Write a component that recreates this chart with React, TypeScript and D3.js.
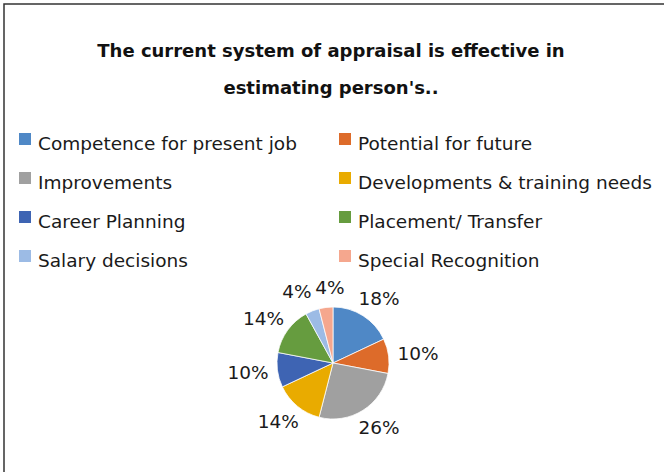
import React from "react";
import * as d3 from "d3";

const categories = [
  "Competence for present job",
  "Potential for future",
  "Improvements",
  "Developments & training needs",
  "Career Planning",
  "Placement/ Transfer",
  "Salary decisions",
  "Special Recognition",
];
const shares = [18, 10, 26, 14, 10, 14, 4, 4];
const colors = [
  "#4F88C6",
  "#DD6B2A",
  "#A0A0A0",
  "#E9AB00",
  "#3E64B3",
  "#669C3F",
  "#9CBBE5",
  "#F5A78E",
];
const titleLines = ["The current system of appraisal is effective in", "estimating person's.."];

const W = 664;
const H = 472;
const font = "'DejaVu Sans', Verdana, sans-serif";

export default function App() {
  const cx = 333;
  const cy = 363;
  const r = 56;

  const pie = d3
    .pie<number>()
    .sort(null)
    .value((d) => d);
  const arcs = pie(shares);
  const arc = d3.arc<d3.PieArcDatum<number>>().innerRadius(0).outerRadius(r);

  // legend grid: 2 columns, rows of 39px
  const col = d3.scaleOrdinal<number, number>().domain([0, 1]).range([19, 339]);
  const row = d3.scaleLinear().domain([0, 1]).range([139, 178]);

  const labelGap = 11;
  const labelW = (s: string) => s.length * 12.5;
  const labelH = 19;

  // place labels just outside the slices, then push apart any that collide
  const labels = arcs.map((a) => {
    const mid = (a.startAngle + a.endAngle) / 2;
    const sx = Math.sin(mid);
    const sy = -Math.cos(mid);
    const text = `${a.data}%`;
    return {
      text,
      w: labelW(text),
      x: (r + labelGap) * sx + (sx * labelW(text)) / 2,
      y: (r + labelGap) * sy + (sy * labelH) / 2,
    };
  });
  for (let k = 0; k < 20; k++) {
    for (let i = 0; i < labels.length; i++) {
      for (let j = i + 1; j < labels.length; j++) {
        const a = labels[i];
        const b = labels[j];
        const ox = (a.w + b.w) / 2 + 8 - Math.abs(a.x - b.x);
        const oy = labelH - Math.abs(a.y - b.y);
        if (ox > 0 && oy > 0) {
          const s = a.x < b.x ? -1 : 1;
          a.x += (s * ox) / 2;
          b.x -= (s * ox) / 2;
        }
      }
    }
  }

  return (
    <svg
      width={W}
      height={H}
      style={{ position: "absolute", left: 0, top: 0, background: "#fff" }}
      fontFamily={font}
    >
      <rect x={4} y={4} width={W + 10} height={H + 10} fill="#fff" stroke="#333" strokeWidth={1.5} />

      {titleLines.map((t, i) => (
        <text
          key={i}
          x={331}
          y={50 + i * 37}
          textAnchor="middle"
          dominantBaseline="central"
          fontSize={18}
          fontWeight="bold"
          fill="#111"
        >
          {t}
        </text>
      ))}

      {categories.map((c, i) => {
        const x = col(i % 2);
        const y = row(Math.floor(i / 2));
        return (
          <g key={c}>
            <rect x={x} y={y - 6} width={12} height={12} fill={colors[i]} />
            <text x={x + 19} y={y + 4} dominantBaseline="central" fontSize={18.5} fill="#1a1a1a">
              {c}
            </text>
          </g>
        );
      })}

      <g transform={`translate(${cx},${cy})`}>
        {arcs.map((a, i) => (
          <path key={i} d={arc(a) ?? ""} fill={colors[i]} stroke="#fff" strokeWidth={0.75} />
        ))}
        {labels.map((l, i) => (
          <text
            key={i}
            x={l.x}
            y={l.y}
            textAnchor="middle"
            dominantBaseline="central"
            fontSize={18.5}
            fill="#1a1a1a"
          >
            {l.text}
          </text>
        ))}
      </g>
    </svg>
  );
}
